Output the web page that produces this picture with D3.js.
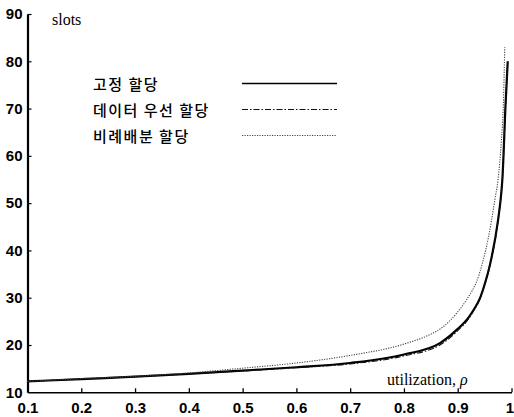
<!DOCTYPE html>
<html>
<head>
<meta charset="utf-8">
<script src="https://cdn.jsdelivr.net/npm/d3@7"></script>
<style>
  body { margin: 0; background: #fff; }
  svg { display: block; }
</style>
</head>
<body>
<div id="chart"></div>
<script>
// utilization values and slot counts
const rho_fixed = [0.1, 0.2, 0.3, 0.4, 0.5, 0.6, 0.7, 0.8, 0.867, 0.898, 0.92, 0.93, 0.941, 0.95, 0.96, 0.975, 0.98, 0.983, 0.989, 0.993];
const slots_fixed = [12.3, 12.8, 13.3, 13.9, 14.6, 15.3, 16.2, 18.0, 20.4, 23.2, 25.8, 27.5, 29.8, 32.8, 37.0, 46.4, 51.0, 55.0, 71.0, 80.0];

const rho_data = [0.1, 0.2, 0.3, 0.4, 0.5, 0.6, 0.7, 0.8, 0.867, 0.898, 0.92, 0.93, 0.941, 0.95, 0.96, 0.975, 0.98, 0.983, 0.989, 0.993];
const slots_data = [12.3, 12.8, 13.3, 13.9, 14.5, 15.2, 16.0, 17.7, 20.0, 22.8, 25.5, 27.3, 29.6, 32.6, 36.8, 46.2, 50.8, 54.8, 70.8, 79.8];

const rho_prop = [0.1, 0.2, 0.3, 0.4, 0.5, 0.6, 0.7, 0.8, 0.85, 0.87, 0.9, 0.916, 0.94, 0.963, 0.969, 0.975, 0.981, 0.985, 0.9875];
const slots_prop = [12.3, 12.9, 13.4, 14.1, 15.1, 16.2, 17.8, 20.2, 22.3, 23.6, 27.0, 29.5, 35.0, 46.4, 50.7, 55.0, 63.0, 71.4, 83.0];

const legend_labels = ["고정 할당", "데이터 우선 할당", "비례배분 할당"];
const x_ticks = [0.1, 0.2, 0.3, 0.4, 0.5, 0.6, 0.7, 0.8, 0.9, 1];
const y_ticks = [10, 20, 30, 40, 50, 60, 70, 80, 90];

const width = 514, height = 417;

const svg = d3.select("#chart").append("svg")
  .attr("width", width)
  .attr("height", height);

const x = d3.scaleLinear().domain([0.1, 1]).range([27.5, 511.5]);
const y = d3.scaleLinear().domain([10, 90]).range([392.3, 14]);

// axes
const xAxis = svg.append("g")
  .attr("transform", `translate(0,${y(10)})`)
  .call(d3.axisBottom(x).tickValues(x_ticks).tickSize(-4).tickSizeOuter(0)
    .tickFormat(d => d === 1 ? "1" : d3.format(".1f")(d)));
xAxis.select(".domain").attr("stroke", "#000").attr("stroke-width", 1.6);
xAxis.selectAll(".tick line").attr("stroke", "#000").attr("stroke-width", 1.3);
xAxis.selectAll(".tick text")
  .attr("y", 10)
  .attr("dy", "0.71em")
  .style("font-family", "'Liberation Sans', Arial, sans-serif")
  .style("font-weight", "bold")
  .style("font-size", "15px")
  .attr("fill", "#000");
// last label sits against the right edge
xAxis.selectAll(".tick text").filter(d => d === 1)
  .attr("text-anchor", "end")
  .attr("x", 2);

const yAxis = svg.append("g")
  .attr("transform", `translate(${x(0.1)},0)`)
  .call(d3.axisLeft(y).tickValues(y_ticks).tickSize(-4).tickSizeOuter(0));
yAxis.select(".domain").attr("stroke", "#000").attr("stroke-width", 2.2);
yAxis.selectAll(".tick line").attr("stroke", "#000").attr("stroke-width", 1.2);
yAxis.selectAll(".tick text")
  .attr("x", -5)
  .style("font-family", "'Liberation Sans', Arial, sans-serif")
  .style("font-weight", "bold")
  .style("font-size", "15px")
  .attr("fill", "#000");
yAxis.selectAll(".tick").filter(d => d === 10).select("line").remove();

// axis titles
svg.append("text")
  .attr("x", 52).attr("y", 25)
  .style("font-family", "'Liberation Serif', 'Times New Roman', serif")
  .style("font-size", "16px")
  .text("slots");

const xt = svg.append("text")
  .attr("x", 387).attr("y", 385)
  .style("font-family", "'Liberation Serif', 'Times New Roman', serif")
  .style("font-size", "16px");
xt.append("tspan").text("utilization, ");
xt.append("tspan").style("font-style", "italic").text("ρ");

// series
const line = d3.line()
  .x(d => x(d[0]))
  .y(d => y(d[1]))
  .curve(d3.curveMonotoneX);

const series = [
  { name: legend_labels[0], pts: d3.zip(rho_fixed, slots_fixed), width: 2.2, dash: null, color: "#000" },
  { name: legend_labels[1], pts: d3.zip(rho_data, slots_data), width: 1.1, dash: "6,2,1.5,2", color: "#111" },
  { name: legend_labels[2], pts: d3.zip(rho_prop, slots_prop), width: 1.1, dash: "1.2,1.3", color: "#444" }
];

svg.selectAll("path.series")
  .data(series)
  .enter()
  .append("path")
  .attr("class", "series")
  .attr("fill", "none")
  .attr("stroke", d => d.color)
  .attr("stroke-width", d => d.width)
  .attr("stroke-dasharray", d => d.dash)
  .attr("d", d => line(d.pts));

// legend
const legend = svg.append("g");
series.forEach((s, i) => {
  const ly = 83.5 + i * 26;
  legend.append("text")
    .attr("x", 93).attr("y", ly + 6)
    .style("font-family", "'Noto Sans CJK KR', sans-serif")
    .style("font-size", "15px")
    .style("font-weight", "500")
    .style("letter-spacing", "1.5px")
    .text(s.name);
  legend.append("line")
    .attr("x1", 242).attr("x2", 337)
    .attr("y1", ly).attr("y2", ly)
    .attr("stroke", s.color)
    .attr("stroke-width", i === 0 ? 1.6 : 1.1)
    .attr("stroke-dasharray", s.dash);
});
</script>
</body>
</html>
